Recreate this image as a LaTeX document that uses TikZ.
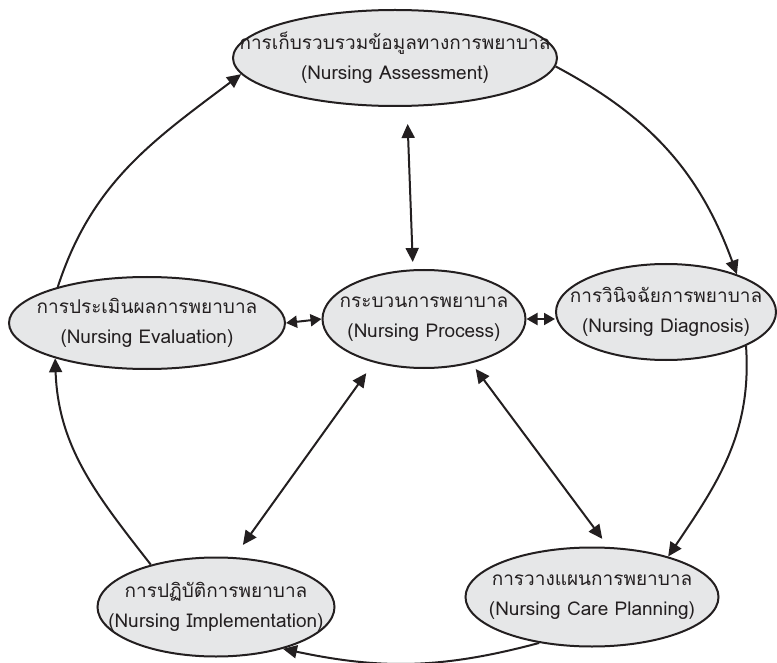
\documentclass[tikz,border=0pt]{standalone}
\usepackage{fontspec}
\newfontfamily\thaifont[Script=Thai]{Loma}
\usetikzlibrary{shapes.geometric,arrows.meta}
\definecolor{EllClr}{HTML}{E6E7E8}
\definecolor{LineClr}{HTML}{231F20}
\newcommand{\stagetext}[2]{\makebox[0pt]{#1}\\\makebox[0pt]{#2}}

\begin{document}
\begin{tikzpicture}[x=1pt,y=1pt,
  stage/.style={ellipse,draw=LineClr,line width=2pt,fill=EllClr,inner sep=0pt,
    align=center,text=LineClr,font=\thaifont\fontsize{19}{30}\selectfont},
  flow/.style={line width=2pt,draw=LineClr,-{Triangle[length=14pt,width=13pt]}},
  both/.style={line width=2pt,draw=LineClr,
    {Triangle[length=14pt,width=13pt]}-{Triangle[length=14pt,width=13pt]}},
  shortboth/.style={line width=2pt,draw=LineClr,
    {Triangle[length=11pt,width=12pt]}-{Triangle[length=11pt,width=12pt]}}]
\useasboundingbox (0,0) rectangle (777,-663);

\node[stage,minimum width=324pt,minimum height=96pt] (assess) at (395,-58)
  {\stagetext{การเก็บรวบรวมข้อมูลทางการพยาบาล}{(Nursing Assessment)}};
\node[stage,minimum width=203pt,minimum height=98pt] (process) at (424,-319)
  {\stagetext{กระบวนการพยาบาล}{(Nursing Process)}};
\node[stage,minimum width=276pt,minimum height=92pt] (evalu) at (147,-323)
  {\stagetext{การประเมินผลการพยาบาล}{(Nursing Evaluation)}};
\node[stage,minimum width=220pt,minimum height=96pt] (diag) at (666,-312)
  {\stagetext{การวินิจฉัยการพยาบาล}{(Nursing Diagnosis)}};
\node[stage,minimum width=237pt,minimum height=99pt] (impl) at (216,-607)
  {\stagetext{การปฏิบัติการพยาบาล}{(Nursing Implementation)}};
\node[stage,minimum width=253pt,minimum height=99pt] (care) at (592,-597)
  {\stagetext{การวางแผนการพยาบาล}{(Nursing Care Planning)}};

% process links
\draw[both,shorten <=17pt,shorten >=7pt] ([xshift=12pt]assess.south) -- ([xshift=-11pt]process.north);
\draw[shortboth] (evalu.east) -- (process.west);
\draw[shortboth] (process.east) -- (process.east -| diag.west);
\draw[both,shorten <=13pt,shorten >=15pt] (process.-139) -- (impl.70);
\draw[both,shorten <=7pt,shorten >=10pt] (process.-43) -- (care.72);

% outer cycle
\draw[flow] (assess.-3) to[out=-28,in=110] (diag.28);
\draw[flow] (diag.-23) to[out=-86,in=56] (care.28);
\draw[flow] (care.-139) to[out=-165,in=-12] (impl.-32);
\draw[flow] (impl.147) to[out=128,in=-88] (evalu.-159);
\draw[flow] (evalu.158) to[out=72,in=-143] (assess.186);

\end{tikzpicture}
\end{document}
